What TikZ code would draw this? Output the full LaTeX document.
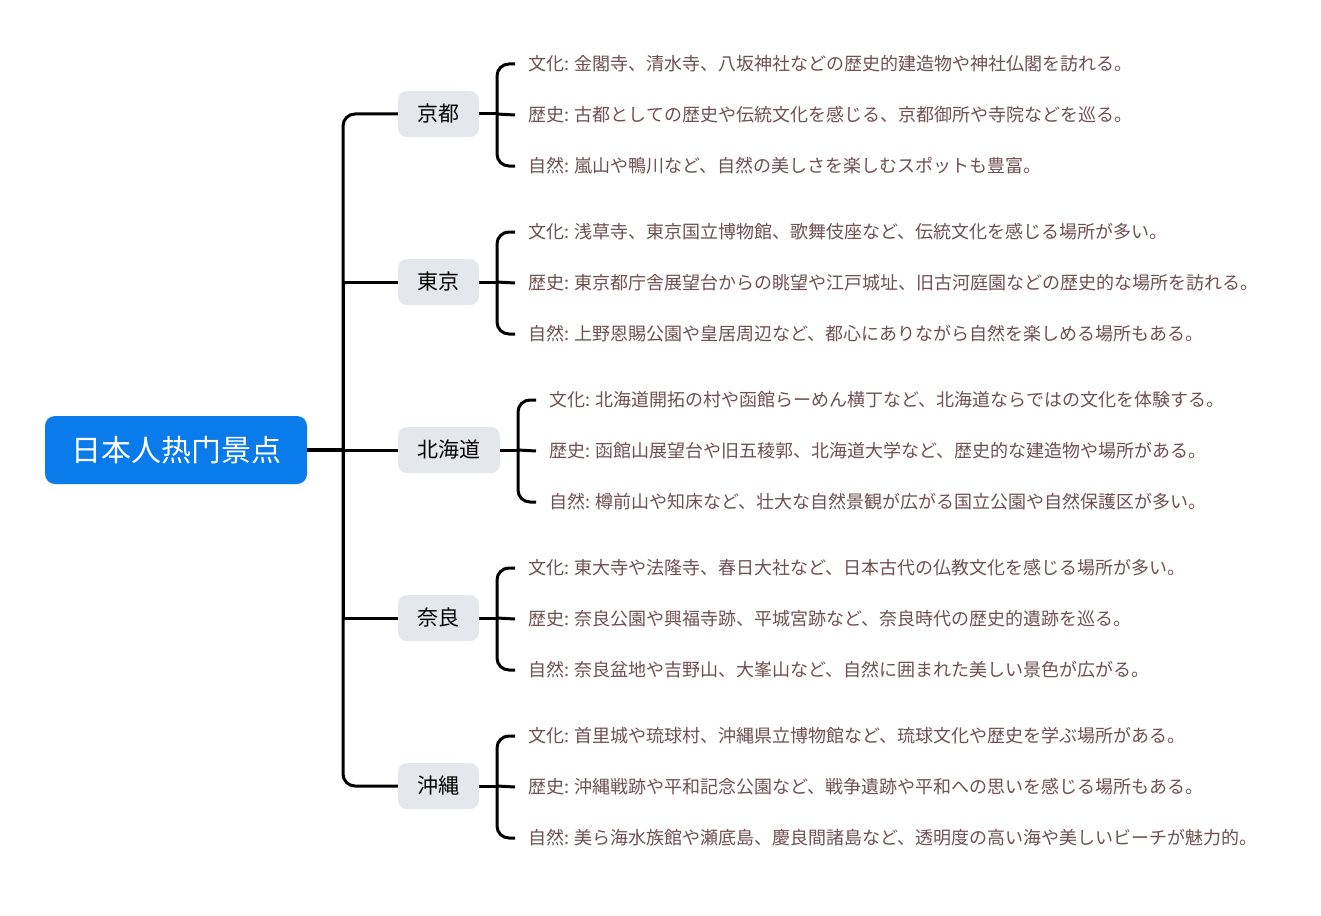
\documentclass[tikz,border=0pt]{standalone}
\usepackage{fontspec}
\setmainfont{Noto Sans CJK JP}
\usetikzlibrary{positioning}
\definecolor{rootblue}{HTML}{0A7BEA}
\definecolor{branchgray}{HTML}{E4E7EB}
\definecolor{leafbrown}{HTML}{6F5050}

\begin{document}
\begin{tikzpicture}[x=1pt, y=-1pt,
    rootbox/.style={rectangle, rounded corners=10pt, fill=rootblue, text=white, minimum width=262pt, minimum height=68pt, font=\fontsize{30}{34}\selectfont},
    branchbox/.style={rectangle, rounded corners=9pt, fill=branchgray, minimum height=46pt, inner xsep=19.5pt, font=\fontsize{21}{24}\selectfont},
    leaftext/.style={anchor=west, inner xsep=13pt, inner ysep=0pt, text=leafbrown, font=\fontsize{18}{20}\selectfont},
    conn/.style={line width=3pt, rounded corners=12pt}]
            \useasboundingbox (0,0) rectangle (1321,915);
            % Root and main topics
            \node[rootbox] (root) at (176,450) {日本人热门景点};
            \coordinate (hub) at (343,450);
            \node[branchbox] (kyoto) at (438.5,114) {京都};
            \node[branchbox] (tokyo) at (438.5,282) {東京};
            \node[branchbox] (hokkaido) at (449,450) {北海道};
            \node[branchbox] (nara) at (438.5,618) {奈良};
            \node[branchbox] (okinawa) at (438.5,786) {沖縄};

            \draw[conn, line width=3.6pt] (root.east) -- (hub);
            \draw[conn] (hub) |- (kyoto.west);
            \draw[conn, sharp corners] (hub) |- (tokyo.west);
            \draw[conn] (hub) -- (hokkaido.west);
            \draw[conn, sharp corners] (hub) |- (nara.west);
            \draw[conn] (hub) |- (okinawa.west);

            % Kyoto
            \coordinate (kyotobr) at (497,114);
            \node[leaftext] (kyoto1) at (515,64) {文化: 金閣寺、清水寺、八坂神社などの歴史的建造物や神社仏閣を訪れる。};
            \node[leaftext] (kyoto2) at (515,115) {歴史: 古都としての歴史や伝統文化を感じる、京都御所や寺院などを巡る。};
            \node[leaftext] (kyoto3) at (515,166) {自然: 嵐山や鴨川など、自然の美しさを楽しむスポットも豊富。};
            \draw[conn] (kyoto.east) -- (kyotobr);
            \draw[conn] (kyotobr) |- (kyoto1.west);
            \draw[conn] (kyotobr) -- (kyoto2.west);
            \draw[conn] (kyotobr) |- (kyoto3.west);

            % Tokyo
            \coordinate (tokyobr) at (497,282);
            \node[leaftext] (tokyo1) at (515,232) {文化: 浅草寺、東京国立博物館、歌舞伎座など、伝統文化を感じる場所が多い。};
            \node[leaftext] (tokyo2) at (515,283) {歴史: 東京都庁舎展望台からの眺望や江戸城址、旧古河庭園などの歴史的な場所を訪れる。};
            \node[leaftext] (tokyo3) at (515,334) {自然: 上野恩賜公園や皇居周辺など、都心にありながら自然を楽しめる場所もある。};
            \draw[conn] (tokyo.east) -- (tokyobr);
            \draw[conn] (tokyobr) |- (tokyo1.west);
            \draw[conn] (tokyobr) -- (tokyo2.west);
            \draw[conn] (tokyobr) |- (tokyo3.west);

            % Hokkaido
            \coordinate (hokkaidobr) at (518,450);
            \node[leaftext] (hokkaido1) at (536,400) {文化: 北海道開拓の村や函館らーめん横丁など、北海道ならではの文化を体験する。};
            \node[leaftext] (hokkaido2) at (536,451) {歴史: 函館山展望台や旧五稜郭、北海道大学など、歴史的な建造物や場所がある。};
            \node[leaftext] (hokkaido3) at (536,502) {自然: 樽前山や知床など、壮大な自然景観が広がる国立公園や自然保護区が多い。};
            \draw[conn] (hokkaido.east) -- (hokkaidobr);
            \draw[conn] (hokkaidobr) |- (hokkaido1.west);
            \draw[conn] (hokkaidobr) -- (hokkaido2.west);
            \draw[conn] (hokkaidobr) |- (hokkaido3.west);

            % Nara
            \coordinate (narabr) at (497,618);
            \node[leaftext] (nara1) at (515,568) {文化: 東大寺や法隆寺、春日大社など、日本古代の仏教文化を感じる場所が多い。};
            \node[leaftext] (nara2) at (515,619) {歴史: 奈良公園や興福寺跡、平城宮跡など、奈良時代の歴史的遺跡を巡る。};
            \node[leaftext] (nara3) at (515,670) {自然: 奈良盆地や吉野山、大峯山など、自然に囲まれた美しい景色が広がる。};
            \draw[conn] (nara.east) -- (narabr);
            \draw[conn] (narabr) |- (nara1.west);
            \draw[conn] (narabr) -- (nara2.west);
            \draw[conn] (narabr) |- (nara3.west);

            % Okinawa
            \coordinate (okinawabr) at (497,786);
            \node[leaftext] (okinawa1) at (515,736) {文化: 首里城や琉球村、沖縄県立博物館など、琉球文化や歴史を学ぶ場所がある。};
            \node[leaftext] (okinawa2) at (515,787) {歴史: 沖縄戦跡や平和記念公園など、戦争遺跡や平和への思いを感じる場所もある。};
            \node[leaftext] (okinawa3) at (515,838) {自然: 美ら海水族館や瀬底島、慶良間諸島など、透明度の高い海や美しいビーチが魅力的。};
            \draw[conn] (okinawa.east) -- (okinawabr);
            \draw[conn] (okinawabr) |- (okinawa1.west);
            \draw[conn] (okinawabr) -- (okinawa2.west);
            \draw[conn] (okinawabr) |- (okinawa3.west);
        \end{tikzpicture}
\end{document}
